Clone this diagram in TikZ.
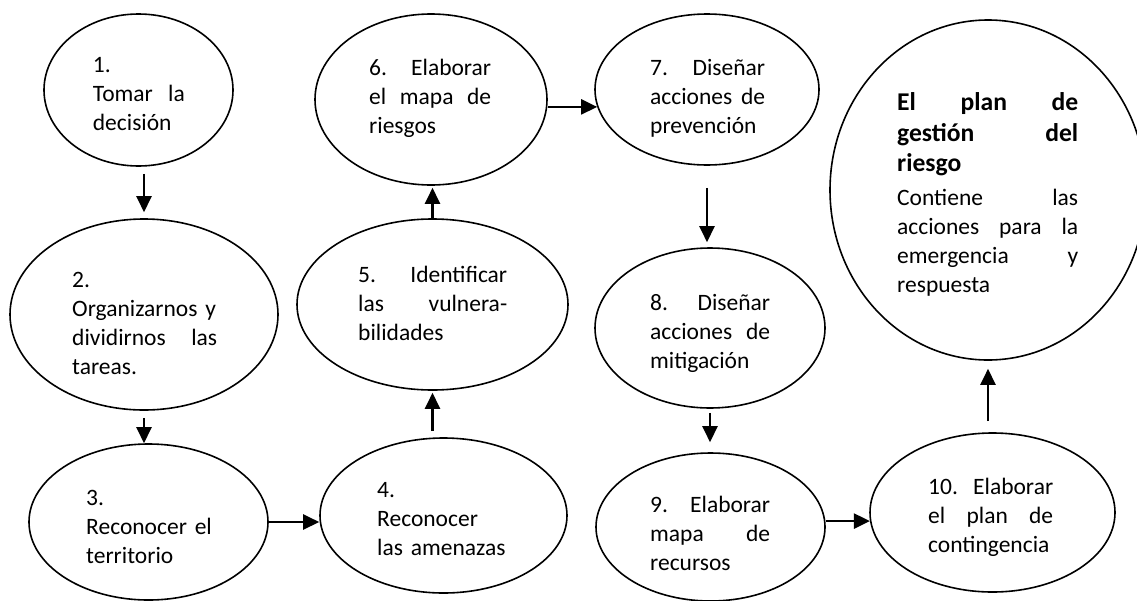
\documentclass[tikz,border=0pt]{standalone}
\usepackage{fontspec}
\setmainfont{Carlito}
\usetikzlibrary{arrows.meta,shapes.geometric}
\begin{document}
\begin{tikzpicture}[x=1pt,y=-1pt,
  ell/.style={draw=black, ellipse, line width=1.6pt, inner sep=0pt},
  txt/.style={anchor=base west, inner sep=0pt, align=left, font=\fontsize{23.5}{29}\selectfont},
  arr/.style={line width=2.4pt, -{Triangle[length=16pt,width=15pt]}}]
\fill[white] (0,0) rectangle (1137,600);
\useasboundingbox (0,0) rectangle (1137,600);
\clip (0,0) rectangle (1137,600);
% ellipses
\node[ell, minimum width=189pt, minimum height=152pt] (e1) at (138.5,90) {};
\node[ell, minimum width=268pt, minimum height=191pt] (e2) at (144,314.5) {};
\node[ell, minimum width=239pt, minimum height=156pt] (e3) at (148.5,522) {};
\node[ell, minimum width=247pt, minimum height=155pt] (e4) at (443.5,515.5) {};
\node[ell, minimum width=271pt, minimum height=171pt] (e5) at (432.5,304.5) {};
\node[ell, minimum width=232pt, minimum height=171pt] (e6) at (431,99.5) {};
\node[ell, minimum width=224pt, minimum height=151pt] (e7) at (707,89.5) {};
\node[ell, minimum width=230pt, minimum height=160pt] (e8) at (710,328) {};
\node[ell, minimum width=229pt, minimum height=148pt] (e9) at (710.5,527) {};
\node[ell, minimum width=245pt, minimum height=159pt] (e10) at (992.5,512.5) {};
\node[ell, minimum width=316pt, minimum height=340pt] (big) at (988,190) {};
% texts
\node[txt, text width=92pt] (t1) at (92.7,72.5) {1.\\Tomar\hfill la\\decisión};
\node[txt, text width=145pt] (t2) at (72,287.5) {2.\\Organizarnos y\\dividirnos\hfill las\\tareas.};
\node[txt, text width=130pt] (t3) at (86,505.5) {3.\\Reconocer el\\territorio};
\node[txt, text width=130pt] (t4) at (377,497.5) {4.\\Reconocer\\las amenazas};
\node[txt, text width=149pt] (t5) at (358,282.5) {5.\hfill Identificar\\las\hfill vulnera-\\bilidades};
\node[txt, text width=122pt] (t6) at (369,75.5) {6.\hfill Elaborar\\el\hfill mapa\hfill de\\riesgos};
\node[txt, text width=115pt] (t7) at (650,75.5) {7.\hfill Diseñar\\acciones\hfill de\\prevención};
\node[txt, text width=120pt] (t8) at (650,310.5) {8.\hfill Diseñar\\acciones\hfill de\\mitigación};
\node[txt, text width=120pt] (t9) at (650,512.5) {9.\hfill Elaborar\\mapa\hfill de\\recursos};
\node[txt, text width=125pt] (t10) at (928,494.5) {10.\hfill Elaborar\\el\hfill plan\hfill de\\contingencia};
\node[txt, text width=181pt] (t11) at (897,110.5) {{\bfseries\fontsize{25.6}{30.5}\selectfont El\hfill plan\hfill de\\gestión\hfill del\\riesgo\par}\vspace{4.5pt}Contiene\hfill las\\acciones\hfill para\hfill la\\emergencia\hfill y\\respuesta};
% connectors
\draw[arr, shorten <=7pt, shorten >=6pt] (e1.south -| e2.north) -- (e2.north);
\draw[arr, shorten <=7pt] (e2.south) -- (e2.south |- e3.north);
\draw[arr] (e3.east) -- (e3.east -| e4.west);
\draw[arr, shorten <=6pt, shorten >=2pt] (e4.north -| e5.south) -- (e5.south);
\draw[arr, shorten >=2pt] (e5.north) -- (e5.north |- e6.south);
\draw[arr] (e7.189 -| e6.east) -- (e7.189);
\draw[arr, shorten <=22pt, shorten >=5pt] (e7.south) -- (e7.south |- e8.north);
\draw[arr, shorten <=4pt, shorten >=10pt] (e8.south) -- (e8.south |- e9.north);
\draw[arr] (e10.184.5 -| e9.east) -- (e10.184.5);
\draw[arr, shorten <=11pt, shorten >=8pt] (e10.north -| big.south) -- (big.south);
\end{tikzpicture}
\end{document}
